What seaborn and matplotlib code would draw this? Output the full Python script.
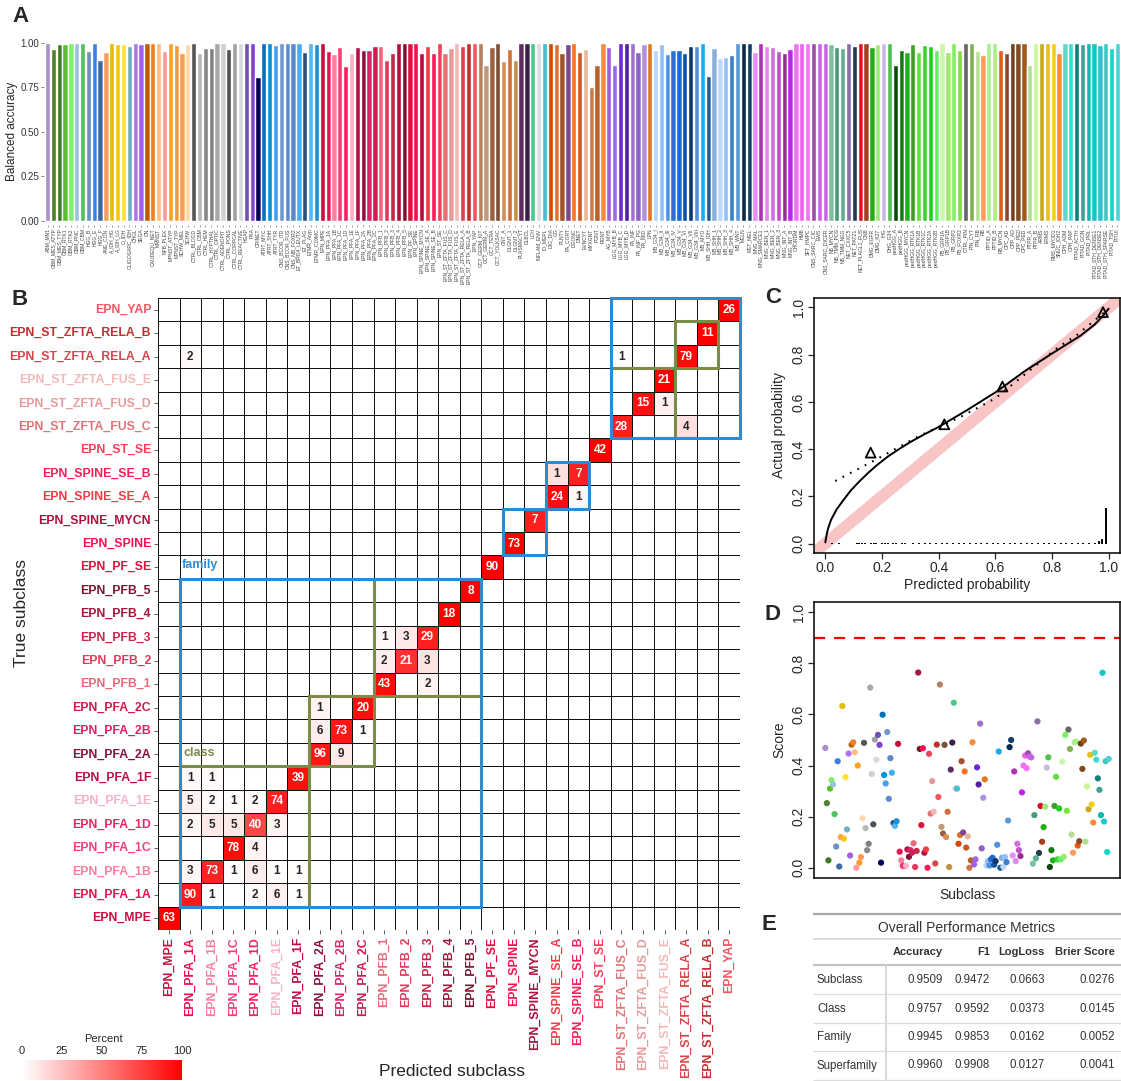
import numpy as np
import pandas as pd
import matplotlib
matplotlib.use("Agg")
import matplotlib.pyplot as plt
import seaborn as sns
from matplotlib.colors import LinearSegmentedColormap
from matplotlib.patches import Rectangle

sns.set_style("white")
plt.rcParams['font.family'] = ['Liberation Sans', 'DejaVu Sans']

# ---------------- data ----------------
# panel A: balanced accuracy per subclass
a_labels = [
    "ABM_MN1", "GBM_MES_ATYP", "GBM_MES_TYP", "GBM_RTK1", "GBM_RTK2", "GBM_PNC", "GBM_CBM", "HGG_B", "HGG_E", "HGG_F",
    "ANE_CON", "A_IDH_HG", "A_IDH_LG", "O_IDH", "OLIGOSARC_IDH", "CHGL", "SEGA", "CN", "CAUDEQU_NET", "MMNST",
    "NFB_PLEX", "MPNST_ATYP", "MPNST_TYP", "SCHW_MEL", "SCHW", "CTRL_BLOOD", "CTRL_CBM", "CTRL_HEM", "CTRL_HYPTHAL", "CTRL_OPTIC",
    "CTRL_ADENOPIT", "CTRL_PONS", "CTRL_CORPCAL", "CTRL_REACTIVE", "HGAP", "PXA", "CRINET", "ATRT_MYC", "ATRT_SHH", "ATRT_TYR",
    "CNS_BCOR_ITD", "CNS_BCOR_FUS", "CNS_NB_FOXR2", "ET_BRD4_LEUTX", "ET_PLAG", "ETMR_Atyp", "ETMR_C19MC", "EPN_MPE", "EPN_PFA_1A", "EPN_PFA_1B",
    "EPN_PFA_1C", "EPN_PFA_1D", "EPN_PFA_1E", "EPN_PFA_1F", "EPN_PFA_2A", "EPN_PFA_2B", "EPN_PFA_2C", "EPN_PFB_1", "EPN_PFB_2", "EPN_PFB_3",
    "EPN_PFB_4", "EPN_PFB_5", "EPN_PF_SE", "EPN_SPINE", "EPN_SPINE_MYCN", "EPN_SPINE_SE_A", "EPN_SPINE_SE_B", "EPN_ST_SE", "EPN_ST_ZFTA_FUS_C", "EPN_ST_ZFTA_FUS_D",
    "EPN_ST_ZFTA_FUS_E", "EPN_ST_ZFTA_RELA_A", "EPN_ST_ZFTA_RELA_B", "EPN_YAP", "GCT_GERM_KIT", "GCT_GERM_A", "GCT_TERA", "GCT_YOLKSAC", "GNT_A", "DLGNT_1",
    "DLGNT_2", "PLASMACYT", "DLBCL", "LCH", "INFLAM_ENV", "IO_MEPL", "DIG_DIA", "GG", "PLNTY", "PA_CORT",
    "DGONC", "DNET", "EVNCYT", "MYXGNT", "PGNT", "RGNT", "AG_MYB", "LGG_MYB_B", "LGG_MYB_C", "LGG_MYB_D",
    "PA_INF", "PA_INF_PG", "PA_MID", "LPN", "MB_G34_I", "MB_G34_II", "MB_G34_III", "MB_G34_IV", "MB_G34_V", "MB_G34_VI",
    "MB_G34_VII", "MB_G34_VIII", "MB_MYO", "MB_SHH_IDH", "MB_SHH_1", "MB_SHH_2", "MB_SHH_3", "MB_SHH_4", "MB_WNT", "MELN",
    "MET_MEL", "MNG_MAL", "MNG_SMARCE1", "MNG_BEN_1", "MNG_BEN_2", "MNG_BEN_3", "MNG_INT_A", "MNG_INT_B", "CHORDM", "HMB",
    "SFT_HMPC", "CNS_SARC_CIC", "EWS", "CNS_SARC_DICER", "NB_MYCN", "NB_TMM_POS", "NB_TMM_NEG", "NET_CXXC5", "NET_PATZ1", "NET_PLAGL1_FUS",
    "ONB", "DMG_EGFR", "DMG_K27", "IHG", "DHG_G34", "pedHGG_A", "pedHGG_B", "pedHGG_MYCN", "pedHGG_RTK1A", "pedHGG_RTK1B",
    "pedHGG_RTK1C", "pedHGG_RTK2A", "pedHGG_RTK2B", "PB_GRP1A", "PB_GRP1B", "PB_GRP2", "PB_FOXR2", "CTRL_PIN", "PIN_CYT", "PIN_RB",
    "RB", "PPTID_A", "PPTID_B", "RB_MYCN", "CPC_AD", "CPP_AD", "CPP_PED", "CPC_PED", "PTPR_A", "PTPR_B",
    "ARMS", "ERMS", "RMS_MYOD1", "SNUC_IDH2", "CPH_ADM", "CPH_PAP", "PITAD_ACTH", "PITAD_GON", "PITAD_PRL", "PITAD_STH_DENSE1",
    "PITAD_STH_DENSE2", "PITAD_STH_SPARSE", "PITAD_TSH", "PITUI",
]
a_accuracy = [
    1.0, 0.965, 0.99, 0.99, 1.0, 1.0, 1.0, 0.953, 1.0, 0.903,
    0.948, 1.0, 0.99, 0.995, 0.98, 1.0, 0.995, 1.0, 1.0, 1.0,
    0.953, 1.0, 0.985, 0.94, 0.995, 1.0, 0.945, 0.97, 0.97, 1.0,
    1.0, 0.965, 1.0, 1.0, 1.0, 1.0, 0.81, 1.0, 1.0, 0.985,
    1.0, 1.0, 1.0, 1.0, 0.948, 1.0, 0.995, 1.0, 0.953, 0.935,
    0.975, 0.87, 0.945, 0.975, 0.96, 0.96, 0.98, 0.98, 0.903, 0.94,
    1.0, 1.0, 1.0, 1.0, 0.94, 0.98, 0.94, 1.0, 0.94, 0.97,
    1.0, 0.98, 1.0, 1.0, 1.0, 0.875, 0.975, 1.0, 0.897, 0.965,
    0.903, 1.0, 1.0, 1.0, 1.0, 1.0, 1.0, 0.99, 0.94, 0.99,
    1.0, 0.948, 0.965, 0.75, 0.875, 1.0, 0.975, 0.875, 1.0, 1.0,
    1.0, 0.948, 0.99, 1.0, 0.958, 0.99, 0.937, 0.958, 0.958, 0.94,
    0.98, 0.98, 1.0, 0.813, 0.97, 0.914, 0.92, 0.93, 1.0, 1.0,
    1.0, 0.948, 1.0, 0.98, 0.975, 0.953, 0.94, 0.965, 1.0, 1.0,
    1.0, 1.0, 1.0, 1.0, 0.99, 0.975, 0.97, 1.0, 0.98, 1.0,
    1.0, 0.975, 0.995, 1.0, 1.0, 0.875, 0.958, 0.948, 0.99, 0.948,
    0.985, 0.98, 0.958, 1.0, 0.948, 1.0, 0.958, 1.0, 1.0, 0.953,
    0.93, 1.0, 1.0, 0.958, 0.94, 1.0, 1.0, 1.0, 0.875, 1.0,
    1.0, 1.0, 1.0, 0.94, 1.0, 1.0, 1.0, 0.99, 1.0, 1.0,
    0.985, 1.0, 0.97, 1.0,
]
a_colors = [
    "#a890c8", "#4f7f2f", "#3d7a22", "#5cc02c", "#80f070", "#a0c0e0", "#50c060", "#6a90c8", "#3a80e0", "#3a6aa8",
    "#ffa050", "#e0c000", "#f0c810", "#ffe030", "#70b0c0", "#b070f0", "#a060e0", "#c05a00", "#f08020", "#f8c080",
    "#ff9a9a", "#ffa020", "#ff9a30", "#ff9a50", "#ffd8a8", "#555555", "#b8b8b8", "#888888", "#808080", "#a8a8a8",
    "#d0d0d0", "#505050", "#a0a0a0", "#d8d8d8", "#7050b0", "#8040d0", "#000060", "#0070c0", "#0090e0", "#40a0f0",
    "#7098d0", "#5a8ad0", "#5a88c8", "#40b0f0", "#2a5080", "#50b8f0", "#2090d0", "#c8103f", "#e8104f", "#f77ea0",
    "#f83d78", "#f72060", "#fbb0c8", "#b80f45", "#8a1040", "#e02066", "#cf1b4f", "#e8697a", "#de3b5a", "#c8264a",
    "#a8143a", "#7a1530", "#e0103c", "#f5114f", "#b0103c", "#f03c46", "#f21f5a", "#f5405a", "#dd7575", "#e89a9a",
    "#f4b8b8", "#d6454a", "#c0302e", "#f25563", "#b88060", "#c09a78", "#9a6040", "#7a5038", "#d8905a", "#d07038",
    "#c09040", "#602a60", "#3a2048", "#4ec78a", "#dddddd", "#45bcd0", "#d04a00", "#e07030", "#a0522d", "#7a4a90",
    "#ff7020", "#d05820", "#e8b898", "#d07845", "#b85f2a", "#f58a40", "#9b5fe0", "#9b6ae0", "#6a2bd0", "#5020a0",
    "#a070d0", "#9060c8", "#b090e0", "#e07820", "#b8d4f8", "#90bef5", "#4a90e0", "#2a70d0", "#1a68d0", "#1050a0",
    "#103870", "#5090e0", "#20a8f0", "#205a90", "#8ab0d8", "#c0d8f8", "#90c0f8", "#3a80c8", "#5a9ad8", "#0a2a4a",
    "#104068", "#e090f8", "#b030b8", "#e08ae8", "#d070e0", "#c050c8", "#9a2a98", "#c020f0", "#f070f8", "#f060f0",
    "#f870f8", "#9a50a0", "#d060e8", "#c860e8", "#80c0a0", "#4a9a78", "#60b090", "#8a70a8", "#203a50", "#e01020",
    "#a04020", "#20b010", "#a0e878", "#c8b8e0", "#50c050", "#0a4a0a", "#107a10", "#20b020", "#40a020", "#60e040",
    "#40d030", "#20d020", "#60f060", "#c8f8a8", "#a0e870", "#80f060", "#80e040", "#666666", "#80b050", "#b8e090",
    "#ff9a5a", "#a8f090", "#a8f080", "#e85a10", "#8a4a30", "#704020", "#804a20", "#a05a20", "#b0e090", "#c8f898",
    "#c8a820", "#e8c020", "#f0d010", "#ff8a3a", "#60d8c8", "#40d8d0", "#10807a", "#40a098", "#10b8b0", "#10c8c8",
    "#20c8d0", "#40c8c0", "#10d8c8", "#50d0d8",
]

# panel B: EPN confusion counts (true, predicted, n)
epn = ["MPE", "PFA_1A", "PFA_1B", "PFA_1C", "PFA_1D", "PFA_1E", "PFA_1F", "PFA_2A", "PFA_2B", "PFA_2C",
       "PFB_1", "PFB_2", "PFB_3", "PFB_4", "PFB_5", "PF_SE", "SPINE", "SPINE_MYCN", "SPINE_SE_A", "SPINE_SE_B",
       "ST_SE", "ST_ZFTA_FUS_C", "ST_ZFTA_FUS_D", "ST_ZFTA_FUS_E", "ST_ZFTA_RELA_A", "ST_ZFTA_RELA_B", "YAP"]
conf = [
    ("MPE", "MPE", 63),
    ("PFA_1A", "PFA_1A", 90), ("PFA_1A", "PFA_1B", 1), ("PFA_1A", "PFA_1D", 2), ("PFA_1A", "PFA_1E", 6), ("PFA_1A", "PFA_1F", 1),
    ("PFA_1B", "PFA_1A", 3), ("PFA_1B", "PFA_1B", 73), ("PFA_1B", "PFA_1C", 1), ("PFA_1B", "PFA_1D", 6), ("PFA_1B", "PFA_1E", 1), ("PFA_1B", "PFA_1F", 1),
    ("PFA_1C", "PFA_1C", 78), ("PFA_1C", "PFA_1D", 4),
    ("PFA_1D", "PFA_1A", 2), ("PFA_1D", "PFA_1B", 5), ("PFA_1D", "PFA_1C", 5), ("PFA_1D", "PFA_1D", 40), ("PFA_1D", "PFA_1E", 3),
    ("PFA_1E", "PFA_1A", 5), ("PFA_1E", "PFA_1B", 2), ("PFA_1E", "PFA_1C", 1), ("PFA_1E", "PFA_1D", 2), ("PFA_1E", "PFA_1E", 74),
    ("PFA_1F", "PFA_1A", 1), ("PFA_1F", "PFA_1B", 1), ("PFA_1F", "PFA_1F", 39),
    ("PFA_2A", "PFA_2A", 96), ("PFA_2A", "PFA_2B", 9),
    ("PFA_2B", "PFA_2A", 6), ("PFA_2B", "PFA_2B", 73), ("PFA_2B", "PFA_2C", 1),
    ("PFA_2C", "PFA_2A", 1), ("PFA_2C", "PFA_2C", 20),
    ("PFB_1", "PFB_1", 43), ("PFB_1", "PFB_3", 2),
    ("PFB_2", "PFB_1", 2), ("PFB_2", "PFB_2", 21), ("PFB_2", "PFB_3", 3),
    ("PFB_3", "PFB_1", 1), ("PFB_3", "PFB_2", 3), ("PFB_3", "PFB_3", 29),
    ("PFB_4", "PFB_4", 18), ("PFB_5", "PFB_5", 8), ("PF_SE", "PF_SE", 90),
    ("SPINE", "SPINE", 73), ("SPINE_MYCN", "SPINE_MYCN", 7),
    ("SPINE_SE_A", "SPINE_SE_A", 24), ("SPINE_SE_A", "SPINE_SE_B", 1),
    ("SPINE_SE_B", "SPINE_SE_A", 1), ("SPINE_SE_B", "SPINE_SE_B", 7),
    ("ST_SE", "ST_SE", 42),
    ("ST_ZFTA_FUS_C", "ST_ZFTA_FUS_C", 28), ("ST_ZFTA_FUS_C", "ST_ZFTA_RELA_A", 4),
    ("ST_ZFTA_FUS_D", "ST_ZFTA_FUS_D", 15), ("ST_ZFTA_FUS_D", "ST_ZFTA_FUS_E", 1),
    ("ST_ZFTA_FUS_E", "ST_ZFTA_FUS_E", 21),
    ("ST_ZFTA_RELA_A", "PFA_1A", 2), ("ST_ZFTA_RELA_A", "ST_ZFTA_FUS_C", 1), ("ST_ZFTA_RELA_A", "ST_ZFTA_RELA_A", 79),
    ("ST_ZFTA_RELA_B", "ST_ZFTA_RELA_B", 11), ("YAP", "YAP", 26),
]
# samples of a true subclass predicted outside the EPN block
outside = {"SPINE_MYCN": 1}
family_groups = [("PFA_1A", "PFB_5"), ("SPINE", "SPINE_MYCN"), ("SPINE_SE_A", "SPINE_SE_B"), ("ST_ZFTA_FUS_C", "YAP")]
class_groups = [("PFA_1A", "PFA_1F"), ("PFA_2A", "PFA_2C"), ("PFB_1", "PFB_5"),
                ("ST_ZFTA_FUS_C", "ST_ZFTA_FUS_E"), ("ST_ZFTA_RELA_A", "ST_ZFTA_RELA_B")]

# panel C: calibration
c_smooth_x = [0.0, 0.005, 0.01, 0.02, 0.04, 0.06, 0.09, 0.12, 0.15, 0.18, 0.22, 0.26, 0.3, 0.35, 0.4,
              0.5, 0.6, 0.7, 0.8, 0.9, 0.95, 0.98, 1.0]
c_smooth_y = [0.005, 0.04, 0.065, 0.1, 0.145, 0.178, 0.225, 0.263, 0.298, 0.33, 0.368, 0.4, 0.43, 0.463, 0.494,
              0.565, 0.64, 0.727, 0.805, 0.88, 0.927, 0.965, 0.995]
c_logit_x = [0.035, 0.17, 0.33, 0.48, 0.6, 0.71, 0.82, 0.89, 1.0]
c_logit_y = [0.265, 0.35, 0.455, 0.538, 0.615, 0.722, 0.83, 0.885, 0.995]
c_group_x = [0.16, 0.42, 0.625, 0.98]
c_group_y = [0.385, 0.505, 0.665, 0.98]
c_rug_x = [0.024, 0.048, 0.11, 0.12, 0.13, 0.14, 0.16, 0.17, 0.18, 0.2, 0.21, 0.22, 0.24, 0.25, 0.27, 0.28,
           0.31, 0.33, 0.35, 0.37, 0.39, 0.41, 0.43, 0.45, 0.47, 0.49, 0.51, 0.53, 0.55, 0.57, 0.59, 0.61,
           0.63, 0.65, 0.67, 0.69, 0.71, 0.73, 0.75, 0.77, 0.79, 0.81, 0.83, 0.85, 0.87, 0.89, 0.91, 0.93,
           0.95, 0.965, 0.975, 0.99]
c_rug_h = [0.004] * 49 + [0.01, 0.02, 0.15]

# panel D: score per subclass
d_score = [
    0.469, 0.253, 0.029, 0.31, 0.343, 0.326, 0.21, 0.083, 0.417, 0.005,
    0.12, 0.633, 0.114, 0.355, 0.15, 0.447, 0.048, 0.482, 0.491, 0.452,
    0.0, 0.40, 0.02, 0.042, 0.193, 0.489, 0.155, 0.069, 0.094, 0.705,
    0.367, 0.17, 0.502, 0.423, 0.52, 0.481, 0.02, 0.599, 0.363, 0.33,
    0.531, 0.27, 0.429, 0.372, 0.175, 0.164, 0.182, 0.485, 0.063, 0.029,
    0.008, 0.007, 0.008, 0.072, 0.043, 0.069, 0.059, 0.096, 0.003, 0.066,
    0.764, 0.465, 0.167, 0.468, 0.059, 0.072, 0.0, 0.446, 0.212, 0.339,
    0.219, 0.017, 0.482, 0.277, 0.717, 0.16, 0.134, 0.481, 0.12, 0.219,
    0.003, 0.384, 0.49, 0.646, 0.31, 0.31, 0.094, 0.128, 0.417, 0.138,
    0.377, 0.079, 0.123, 0.0, 0.029, 0.491, 0.013, 0.033, 0.393, 0.326,
    0.564, 0.076, 0.274, 0.346, 0.009, 0.026, 0.009, 0.033, 0.039, 0.012,
    0.026, 0.09, 0.455, 0.0, 0.039, 0.004, 0.042, 0.022, 0.185, 0.472,
    0.5, 0.048, 0.377, 0.026, 0.094, 0.069, 0.046, 0.295, 0.40, 0.439,
    0.39, 0.448, 0.435, 0.432, 0.016, 0.206, 0.037, 0.573, 0.058, 0.242,
    0.102, 0.159, 0.239, 0.392, 0.432, 0.003, 0.069, 0.029, 0.242, 0.356,
    0.033, 0.232, 0.033, 0.415, 0.043, 0.52, 0.223, 0.541, 0.465, 0.13,
    0.059, 0.491, 0.494, 0.087, 0.104, 0.486, 0.387, 0.498, 0.102, 0.318,
    0.229, 0.442, 0.248, 0.177, 0.45, 0.423, 0.35, 0.305, 0.206, 0.763,
    0.181, 0.417, 0.062, 0.426,
]
d_threshold = 0.9

# panel E: overall metrics
e_levels = ["Subclass", "Class", "Family", "Superfamily"]
e_accuracy = [0.9509, 0.9757, 0.9945, 0.9960]
e_f1 = [0.9472, 0.9592, 0.9853, 0.9908]
e_logloss = [0.0663, 0.0373, 0.0162, 0.0127]
e_brier = [0.0276, 0.0145, 0.0052, 0.0041]

# ---------------- figure ----------------
W, H = 1121, 1081
fig = plt.figure(figsize=(W / 100, H / 100), dpi=100)


def px(x0, y0, x1, y1):
    # pixel box (left, top, right, bottom) -> figure rect
    return [x0 / W, 1 - y1 / H, (x1 - x0) / W, (y1 - y0) / H]


color_of = dict(zip(a_labels, a_colors))

# ---- A ----
axA = fig.add_axes(px(44, 37, 1121, 225))
sns.barplot(x=a_labels, y=a_accuracy, hue=a_labels, palette=a_colors, legend=False,
            saturation=1, width=0.9, ax=axA)
axA.set_xlim(-0.6, len(a_labels) - 0.4)
axA.set_ylim(-0.022, 1.032)
axA.set_xticks(range(len(a_labels)))
axA.set_xticklabels(a_labels, rotation=90, fontsize=3.6, color="#444444")
axA.set_yticks([0, 0.25, 0.5, 0.75, 1.0])
axA.set_yticklabels(["0.00", "0.25", "0.50", "0.75", "1.00"], fontsize=7, color="#333333")
axA.tick_params(axis="x", bottom=True, length=1.5, width=0.4, pad=1, color="#555555")
axA.tick_params(axis="y", left=True, length=2, width=0.5, pad=1.5, color="#555555")
axA.set_xlabel("")
axA.set_ylabel("Balanced accuracy", fontsize=8.5, labelpad=2)
sns.despine(ax=axA, left=True, bottom=True)

# ---- B ----
full = ["EPN_" + e for e in epn]
n = len(epn)
cm = pd.DataFrame(0, index=epn, columns=epn)
for t, p, k in conf:
    cm.loc[t, p] = k
totals = cm.sum(axis=1) + pd.Series(outside).reindex(epn).fillna(0)
pct = cm.div(totals, axis=0) * 100
pct = pct.iloc[::-1]  # top row = last subclass
counts = cm.iloc[::-1]
annot = np.where(counts.values > 0, counts.values.astype(str), "")

axB = fig.add_axes(px(158, 298, 740, 930))
axCb = fig.add_axes(px(22, 1060, 182, 1080))
cmap = LinearSegmentedColormap.from_list("wr", ["#ffffff", "#ff0000"])
sns.heatmap(pct, ax=axB, cmap=cmap, vmin=0, vmax=100, annot=annot, fmt="",
            annot_kws={"fontsize": 8.5, "fontweight": "bold"},
            linewidths=0.6, linecolor="#111111", cbar=True, cbar_ax=axCb,
            cbar_kws={"orientation": "horizontal", "ticks": [0, 25, 50, 75, 100]})
axB.set_xticks(np.arange(n) + 0.5)
axB.set_xticklabels(full, rotation=90, fontsize=8.8, fontweight="bold")
axB.set_yticks(np.arange(n) + 0.5)
axB.set_yticklabels(full[::-1], rotation=0, fontsize=8.8, fontweight="bold")
for lab in axB.get_xticklabels() + axB.get_yticklabels():
    lab.set_color(color_of[lab.get_text()])
axB.tick_params(axis="both", bottom=True, left=True, length=3, width=0.6, pad=2, color="#444444")
axB.set_xlabel("")
axB.set_ylabel("")

idx = {e: i for i, e in enumerate(epn)}
blue, green = "#2f8bd0", "#7a8c47"
for groups, col in [(class_groups, green), (family_groups, blue)]:
    for a, b in groups:
        k0, k1 = idx[a], idx[b]
        axB.add_patch(Rectangle((k0, n - 1 - k1), k1 - k0 + 1, k1 - k0 + 1, fill=False,
                                edgecolor=col, lw=2.2, clip_on=False, zorder=5))
axB.text(1.1, n - 1 - idx["PFB_5"] - 0.6, "family", color=blue, fontsize=9, fontweight="bold",
         ha="left", va="center")
axB.text(1.2, n - 1 - idx["PFA_1F"] - 0.55, "class", color=green, fontsize=9, fontweight="bold",
         ha="left", va="center")

cbar = axB.collections[0].colorbar
cbar.outline.set_visible(False)
axCb.xaxis.set_ticks_position("top")
axCb.tick_params(axis="x", labelsize=8, length=2, width=0.5, pad=1, color="white")
fig.text(103 / W, 1 - 1039 / H, "Percent", ha="center", va="center", fontsize=8)
fig.text(22 / W, 1 - 613 / H, "True subclass", rotation=90, ha="center", va="center", fontsize=12.5)
fig.text(452 / W, 1 - 1071 / H, "Predicted subclass", ha="center", va="center", fontsize=12.5)

# ---- C ----
axC = fig.add_axes(px(814, 298, 1120, 553))
axC.plot([-0.1, 1.1], [-0.1, 1.1], color="#f8c4c4", lw=8.5, solid_capstyle="butt", zorder=1)
sns.lineplot(x=c_smooth_x, y=c_smooth_y, ax=axC, color="black", lw=1.4, sort=False, estimator=None, zorder=3)
sns.lineplot(x=c_logit_x, y=c_logit_y, ax=axC, color="black", lw=1.5, sort=False, estimator=None,
             linestyle=(0, (0.8, 3.2)), zorder=3)
axC.scatter(c_group_x, c_group_y, marker="^", s=50, facecolors="none", edgecolors="black",
            linewidths=1.3, zorder=4)
axC.vlines(c_rug_x, 0, c_rug_h, color="black", lw=1.4, zorder=3)
axC.set_xlim(-0.04, 1.04)
axC.set_ylim(-0.04, 1.04)
ticks = [0, 0.2, 0.4, 0.6, 0.8, 1.0]
axC.set_xticks(ticks)
axC.set_xticklabels([f"{t:.1f}" for t in ticks], fontsize=10)
axC.set_yticks(ticks)
axC.set_yticklabels([f"{t:.1f}" for t in ticks], fontsize=10, rotation=90, va="center")
axC.set_xlabel("Predicted probability", fontsize=10, labelpad=2)
axC.set_ylabel("Actual probability", fontsize=10, labelpad=4)

# ---- D ----
axD = fig.add_axes(px(814, 602, 1120, 878))
sns.scatterplot(x=np.arange(1, len(d_score) + 1), y=d_score, hue=a_labels, palette=a_colors,
                legend=False, s=20, edgecolor="none", ax=axD, zorder=3)
axD.axhline(d_threshold, color="#ff0000", lw=1.6, linestyle=(0, (5, 4)))
axD.set_xlim(-6.3, len(d_score) + 7.3)
axD.set_ylim(-0.04, 1.04)
axD.set_xticks([])
axD.set_yticks(ticks)
axD.set_yticklabels([f"{t:.1f}" for t in ticks], fontsize=10, rotation=90, va="center")
axD.set_xlabel("Subclass", fontsize=10, labelpad=7)
axD.set_ylabel("Score", fontsize=10, labelpad=4)

for ax in (axC, axD):
    for s in ax.spines.values():
        s.set_visible(True)
        s.set_color("black")
        s.set_linewidth(1.1)
    ax.tick_params(axis="both", bottom=True, left=True, direction="out", length=4, width=0.9, pad=2)
axD.tick_params(axis="x", bottom=False)

# ---- E ----
axE = fig.add_axes(px(813, 905, 1121, 1081))
axE.set_xlim(813, 1121)
axE.set_ylim(1081, 905)
axE.axis("off")
axE.hlines(914, 813, 1121, color="#a8a8a8", lw=1.6)
axE.text(967, 928, "Overall Performance Metrics", ha="center", va="center", fontsize=10, color="#333333")
axE.hlines(939, 813, 1121, color="#d4d4d4", lw=1.2)
headers = ["Accuracy", "F1", "LogLoss", "Brier Score"]
col_right = [943, 990, 1045, 1115]
for h, xr in zip(headers, col_right):
    axE.text(xr, 952, h, ha="right", va="center", fontsize=8, fontweight="bold", color="#333333")
axE.hlines(965, 813, 1121, color="#c4c4c4", lw=1.6)
axE.vlines(886, 965, 1081, color="#d4d4d4", lw=1.3)
row_h = 28.5
for i, lev in enumerate(e_levels):
    y = 980 + i * row_h
    axE.text(817, y, lev, ha="left", va="center", fontsize=8.3, color="#333333")
    vals = [e_accuracy[i], e_f1[i], e_logloss[i], e_brier[i]]
    for v, xr in zip(vals, col_right):
        axE.text(xr, y, f"{v:.4f}", ha="right", va="center", fontsize=8.3, color="#333333")
    axE.hlines(y + 14, 813, 1121, color="#dcdcdc", lw=0.9)

# panel letters
for lab, x, y in [("A", 12, 17), ("B", 12, 299), ("C", 773, 298), ("D", 772, 614), ("E", 769, 925)]:
    fig.text(x / W, 1 - y / H, lab, fontsize=16, fontweight="bold", ha="left" if lab in "AB" else "center",
             va="center")

plt.savefig("out.png", dpi=100)
